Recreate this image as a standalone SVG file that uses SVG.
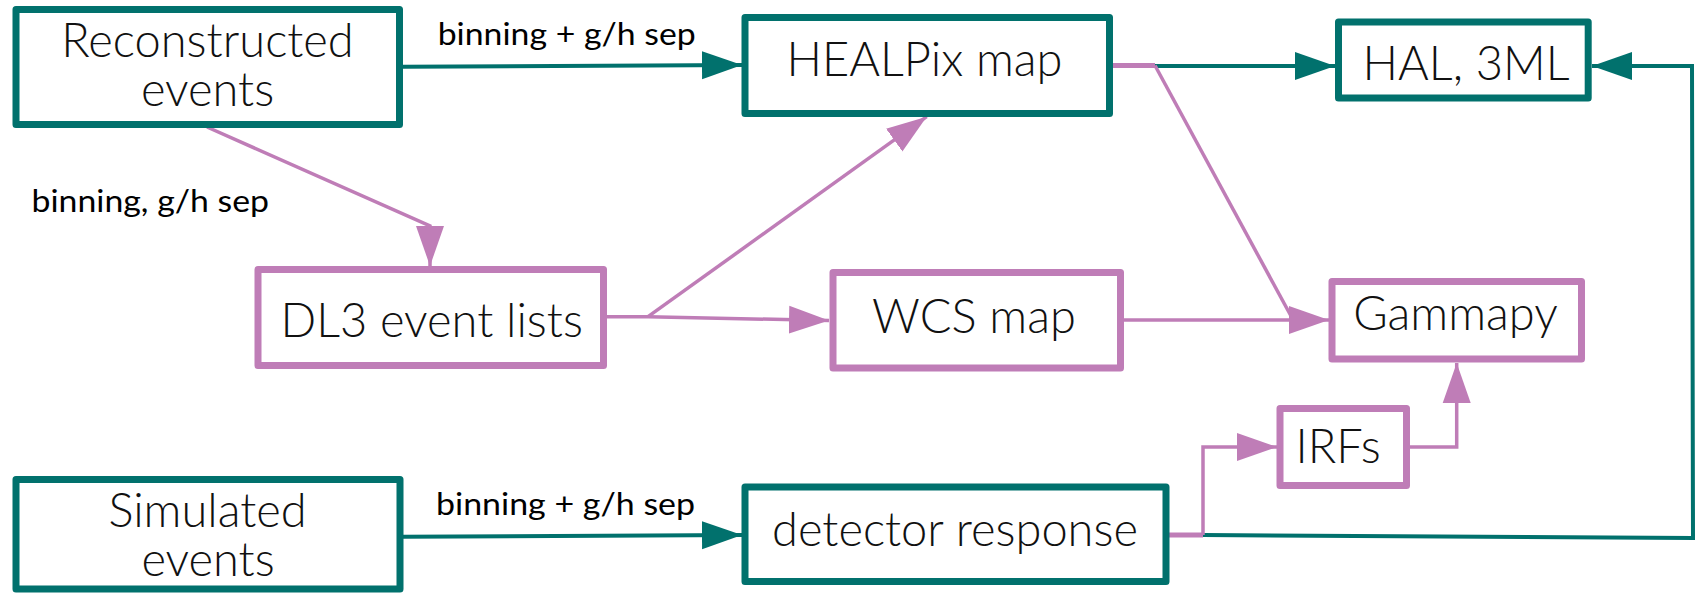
<svg xmlns="http://www.w3.org/2000/svg" width="1701" height="595" viewBox="0 0 1701 595">
<style>
.bt{fill:#fff;stroke:#01716d;stroke-width:7;stroke-linejoin:round}
.bp{fill:#fff;stroke:#bf7db7;stroke-width:7;stroke-linejoin:round}
.lbl{font-family:Lato,"Liberation Sans",sans-serif;font-weight:300;font-size:47px;fill:#111;text-anchor:middle}
.edge{font-family:Lato,"Liberation Sans",sans-serif;font-weight:400;font-size:31px;fill:#000}
.ct{fill:none;stroke:#01716d;stroke-width:4}
.cp{fill:none;stroke:#bf7db7;stroke-width:3.5}
</style>
<defs>
<marker id="at" markerUnits="userSpaceOnUse" markerWidth="40" markerHeight="30" viewBox="0 0 40 30" refX="40" refY="15" orient="auto">
<path d="M0,1 L40,15 L0,29 z" fill="#01716d"/>
</marker>
<marker id="ap" markerUnits="userSpaceOnUse" markerWidth="40" markerHeight="30" viewBox="0 0 40 30" refX="40" refY="15" orient="auto">
<path d="M0,1 L40,15 L0,29 z" fill="#bf7db7"/>
</marker>
</defs>
<rect width="1701" height="595" fill="#fff"/>
<g id="connectors">
<path class="ct" d="M403,66.7 L742,65" marker-end="url(#at)"/>
<path class="ct" d="M1155,66 L1335,66" marker-end="url(#at)"/>
<path class="ct" d="M403,536.7 L742,535" marker-end="url(#at)"/>
<path class="ct" d="M1203,535 L1693,538 L1692,66 L1592,66" marker-end="url(#at)"/>
<path class="cp" d="M207,127 L430,226 L430,266" marker-end="url(#ap)"/>
<path class="cp" d="M607,316.7 L648,316.7 L829,320.5" marker-end="url(#ap)"/>
<path class="cp" d="M648,316.7 L926.7,116.7" marker-end="url(#ap)"/>
<path class="cp" d="M1110,65.5 L1155,65.5" style="stroke-width:5"/>
<path class="cp" d="M1155,65.5 L1291,316"/>
<path class="cp" d="M1124,320 L1329,320" marker-end="url(#ap)"/>
<path class="cp" d="M1166,535 L1203,535" style="stroke-width:5"/>
<path class="cp" d="M1203,535 L1203,447 L1277,447" marker-end="url(#ap)"/>
<path class="cp" d="M1410,447 L1456.7,447 L1456.7,363" marker-end="url(#ap)"/>
<text class="edge" x="437.7" y="45" textLength="258" lengthAdjust="spacingAndGlyphs">binning + g/h sep</text>
<text class="edge" x="31.5" y="211.7" textLength="237.5" lengthAdjust="spacingAndGlyphs">binning, g/h sep</text>
<text class="edge" x="436" y="515" textLength="259" lengthAdjust="spacingAndGlyphs">binning + g/h sep</text>
</g>
<g id="reconstructed">
<rect class="bt" x="16" y="9.5" width="383.5" height="115"/>
<text class="lbl"><tspan x="207.5" y="57">Reconstructed</tspan><tspan x="207.5" y="106">events</tspan></text>
</g>
<g id="healpix">
<rect class="bt" x="745" y="17.5" width="364.5" height="96"/>
<text class="lbl" x="924.5" y="76">HEALPix map</text>
</g>
<g id="hal">
<rect class="bt" x="1338.5" y="22" width="249.7" height="76"/>
<text class="lbl" x="1466" y="80">HAL, 3ML</text>
</g>
<g id="dl3">
<rect class="bp" x="258" y="269.5" width="345.5" height="96"/>
<text class="lbl" x="431.7" y="336.7">DL3 event lists</text>
</g>
<g id="wcs">
<rect class="bp" x="833" y="272.5" width="287.5" height="95.5"/>
<text class="lbl" x="974" y="333.3">WCS map</text>
</g>
<g id="gammapy">
<rect class="bp" x="1332" y="281.5" width="249.5" height="77.5"/>
<text class="lbl" x="1455.5" y="330">Gammapy</text>
</g>
<g id="irfs">
<rect class="bp" x="1280" y="408.5" width="126.5" height="77"/>
<text class="lbl" x="1338" y="462.7">IRFs</text>
</g>
<g id="simulated">
<rect class="bt" x="16" y="479.5" width="384" height="109.5"/>
<text class="lbl"><tspan x="207.5" y="527">Simulated</tspan><tspan x="208" y="575.7">events</tspan></text>
</g>
<g id="detector">
<rect class="bt" x="745" y="487" width="421" height="94.5"/>
<text class="lbl" x="955" y="545.7">detector response</text>
</g>
</svg>
